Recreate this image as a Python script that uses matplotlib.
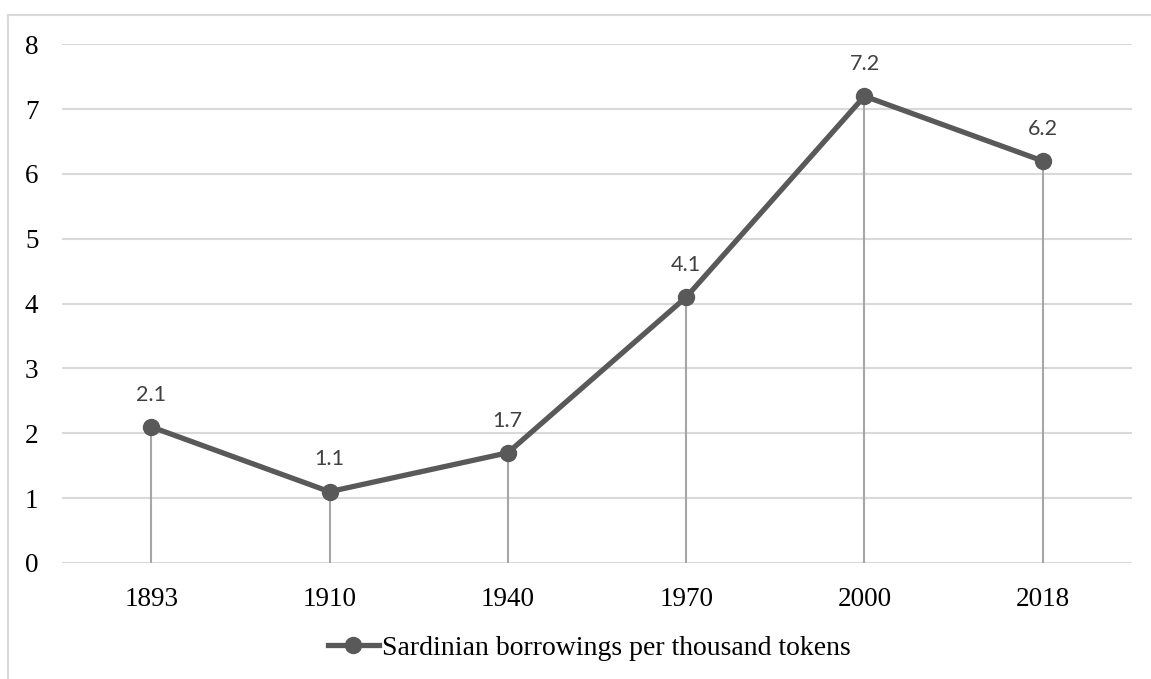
import matplotlib
matplotlib.use("Agg")
import matplotlib.pyplot as plt
from matplotlib.lines import Line2D

categories = ["1893", "1910", "1940", "1970", "2000", "2018"]
values = [2.1, 1.1, 1.7, 4.1, 7.2, 6.2]
series_name = "Sardinian borrowings per thousand tokens"
yticks = [0, 1, 2, 3, 4, 5, 6, 7, 8]

W, H = 1151, 679
fig = plt.figure(figsize=(W / 100, H / 100), dpi=100)
ax = fig.add_axes([62 / W, 1 - 563 / H, (1132 - 62) / W, (563 - 44.3) / H])

x = list(range(len(categories)))
line_color = "#595959"

# gridlines
for t in yticks:
    ax.axhline(t, color="#D9D9D9", lw=1.5, zorder=0)

# drop lines
ax.vlines(x, 0, values, color="#A6A6A6", lw=1.5, zorder=1)

ax.plot(x, values, color=line_color, lw=3.8, marker="o", markersize=11.5,
        solid_capstyle="round", zorder=3)

for xi, v in zip(x, values):
    ax.annotate(f"{v:.1f}", (xi, v), xytext=(0, 16), textcoords="offset points",
                ha="center", va="bottom", fontsize=15.5, color="#404040",
                family=["Lato", "DejaVu Sans"])

ax.set_xlim(-0.5, len(categories) - 0.5)
ax.set_ylim(0, 8)
ax.set_xticks(x)
ax.set_xticklabels(categories, family="Liberation Serif", fontsize=19.5, color="#000000")
ax.set_yticks(yticks)
ax.set_yticklabels([str(t) for t in yticks], family="Liberation Serif", fontsize=19.5, color="#000000")
ax.tick_params(axis="both", length=0)
ax.tick_params(axis="y", pad=17)
ax.tick_params(axis="x", pad=17)
for s in ax.spines.values():
    s.set_visible(False)

# legend
handle = Line2D([0], [0], color=line_color, lw=3.8, marker="o", markersize=11.5)
fig.legend([handle], [series_name], loc="center", bbox_to_anchor=(589 / W, 1 - 648 / H),
           frameon=False, prop={"family": "Liberation Serif", "size": 20},
           handlelength=1.85, handletextpad=0.1)

# chart area border (top and left visible)
fig.add_artist(Line2D([8 / W, 1.0], [1 - 15 / H, 1 - 15 / H], color="#D9D9D9", lw=1.5,
                      transform=fig.transFigure))
fig.add_artist(Line2D([8 / W, 8 / W], [1 - 15 / H, 0.0], color="#D9D9D9", lw=1.5,
                      transform=fig.transFigure))

fig.savefig("out.png", dpi=100)
